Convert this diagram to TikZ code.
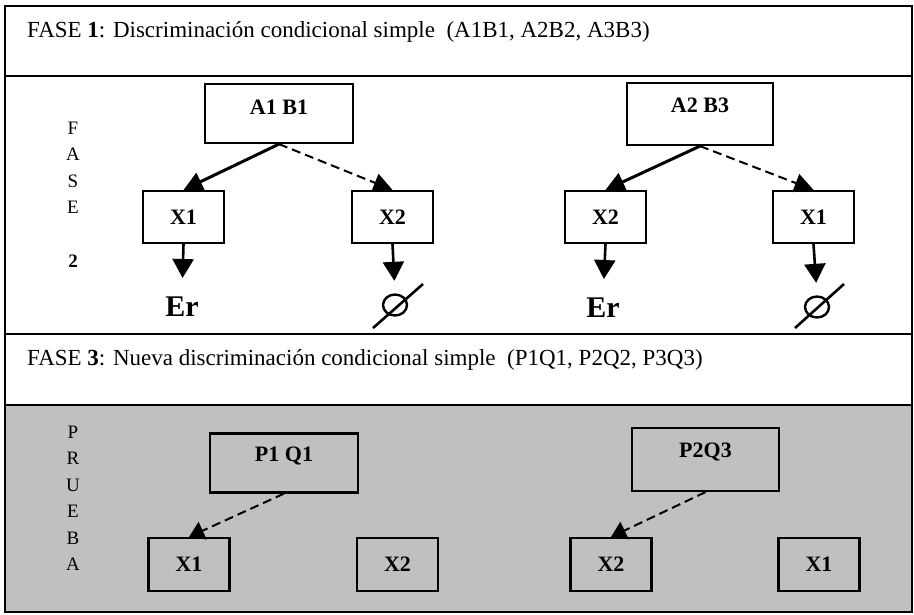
\documentclass[tikz,border=0pt]{standalone}
\usepackage{fontspec}
\setmainfont{Liberation Serif}
\usetikzlibrary{arrows.meta,shapes.geometric}
\definecolor{panelgray}{RGB}{192,192,192}
\tikzset{
  frame/.style={line width=2.5pt},
  bigbox/.style={draw, line width=2.2pt, rectangle, inner sep=0pt},
  xbox/.style={draw, line width=2.2pt, rectangle, inner sep=0pt, minimum width=81pt, minimum height=52pt, font=\fontsize{22}{26}\selectfont\bfseries},
  boxlbl/.style={inner sep=0pt, font=\fontsize{22}{26}\selectfont\bfseries},
  hdr/.style={inner sep=0pt, font=\fontsize{23}{27}\selectfont},
  sidelbl/.style={inner sep=0pt, font=\fontsize{19}{23}\selectfont},
  ertext/.style={inner sep=0pt, font=\fontsize{30}{34}\selectfont\bfseries},
  nullset/.style={draw, ellipse, line width=2.4pt, inner sep=0pt, minimum width=24pt, minimum height=21pt},
  solidarr/.style={line width=3pt, -{Triangle[length=19pt,width=19pt]}},
  dasharr/.style={line width=2pt, dash pattern=on 9pt off 5pt, -{Triangle[length=19pt,width=19pt]}},
  downarr/.style={line width=2.6pt, -{Triangle[length=19pt,width=21pt]}, shorten >=19pt},
  nullarr/.style={line width=2.6pt, -{Triangle[length=19pt,width=21pt]}, shorten >=12.5pt},
  testarr/.style={line width=2pt, dash pattern=on 9pt off 5pt, -{Triangle[length=15pt,width=19pt]}}
}
\begin{document}
\begin{tikzpicture}[x=1pt,y=-1pt]
\useasboundingbox (0,0) rectangle (914,614);
% panels
\fill[panelgray] (5,405) rectangle (912,612);
\draw[frame] (5,6) rectangle (912,612);
\draw[frame] (5,76) -- (912,76);
\draw[frame] (5,334) -- (912,334);
\draw[frame] (5,405) -- (912,405);
% headers
\node[hdr, anchor=base west] (h1) at (27,37) {FASE \textbf{1}: Discriminación condicional simple\ \ (A1B1, A2B2, A3B3)};
\node[hdr, anchor=base west] (h3) at (27,365) {FASE \textbf{3}: Nueva discriminación condicional simple\ \ (P1Q1, P2Q2, P3Q3)};
% side letters
\foreach \l [count=\i] in {F,A,S,E} \node[sidelbl] (fase\i) at (73,128+26.5*\i-26.5) {\l};
\node[sidelbl, font=\fontsize{19}{23}\selectfont\bfseries] (fase5) at (73,261) {2};
\foreach \l [count=\i] in {P,R,U,E,B,A} \node[sidelbl] (prueba\i) at (73,432+26.5*\i-26.5) {\l};
% phase 2 left
\node[bigbox, minimum width=148pt, minimum height=59pt] (ab1) at (279,113.5) {};
\node[boxlbl] (ab1t) at (279,107) {A1 B1};
\node[xbox] (x1a) at (183.5,217) {X1};
\node[xbox] (x2a) at (392.5,217) {X2};
\node[ertext] (er1) at (182,307) {Er};
\node[nullset] (nul1) at (395,305) {};
\draw[line width=2.6pt] ([shift={(-22,23)}]nul1.center) -- ([shift={(28,-21)}]nul1.center);
\draw[solidarr] (ab1.south) -- (x1a.north);
\draw[dasharr] (ab1.south) -- (x2a.north);
\draw[downarr] (x1a.south) -- (er1.north);
\draw[nullarr] (x2a.south) -- (nul1.north);
% phase 2 right
\node[bigbox, minimum width=146pt, minimum height=62pt] (ab2) at (700,114) {};
\node[boxlbl] (ab2t) at (700,105) {A2 B3};
\node[xbox] (x2b) at (605.5,217) {X2};
\node[xbox] (x1b) at (813.5,217) {X1};
\node[ertext] (er2) at (603,308) {Er};
\node[nullset] (nul2) at (817,307) {};
\draw[line width=2.6pt] ([shift={(-22,21)}]nul2.center) -- ([shift={(27,-23)}]nul2.center);
\draw[solidarr] (ab2.south) -- (x2b.north);
\draw[dasharr] (ab2.south) -- (x1b.north);
\draw[downarr] (x2b.south) -- (er2.north);
\draw[nullarr] (x1b.south) -- (nul2.north);
% test phase
\node[bigbox, minimum width=148pt, minimum height=59pt] (pq1) at (284,463) {};
\node[boxlbl] (pq1t) at (284,456) {P1 Q1};
\node[xbox, minimum height=53pt] (x1c) at (189,564.5) {X1};
\node[xbox, minimum height=53pt] (x2c) at (397.5,564.5) {X2};
\draw[testarr] (pq1.south) -- (x1c.north);
\node[bigbox, minimum width=147pt, minimum height=63pt] (pq2) at (705.5,459.5) {};
\node[boxlbl] (pq2t) at (705.5,452) {P2Q3};
\node[xbox, minimum height=53pt] (x2d) at (611,564.5) {X2};
\node[xbox, minimum height=53pt] (x1d) at (819,564.5) {X1};
\draw[testarr] (pq2.south) -- (x2d.north);
\end{tikzpicture}
\end{document}
